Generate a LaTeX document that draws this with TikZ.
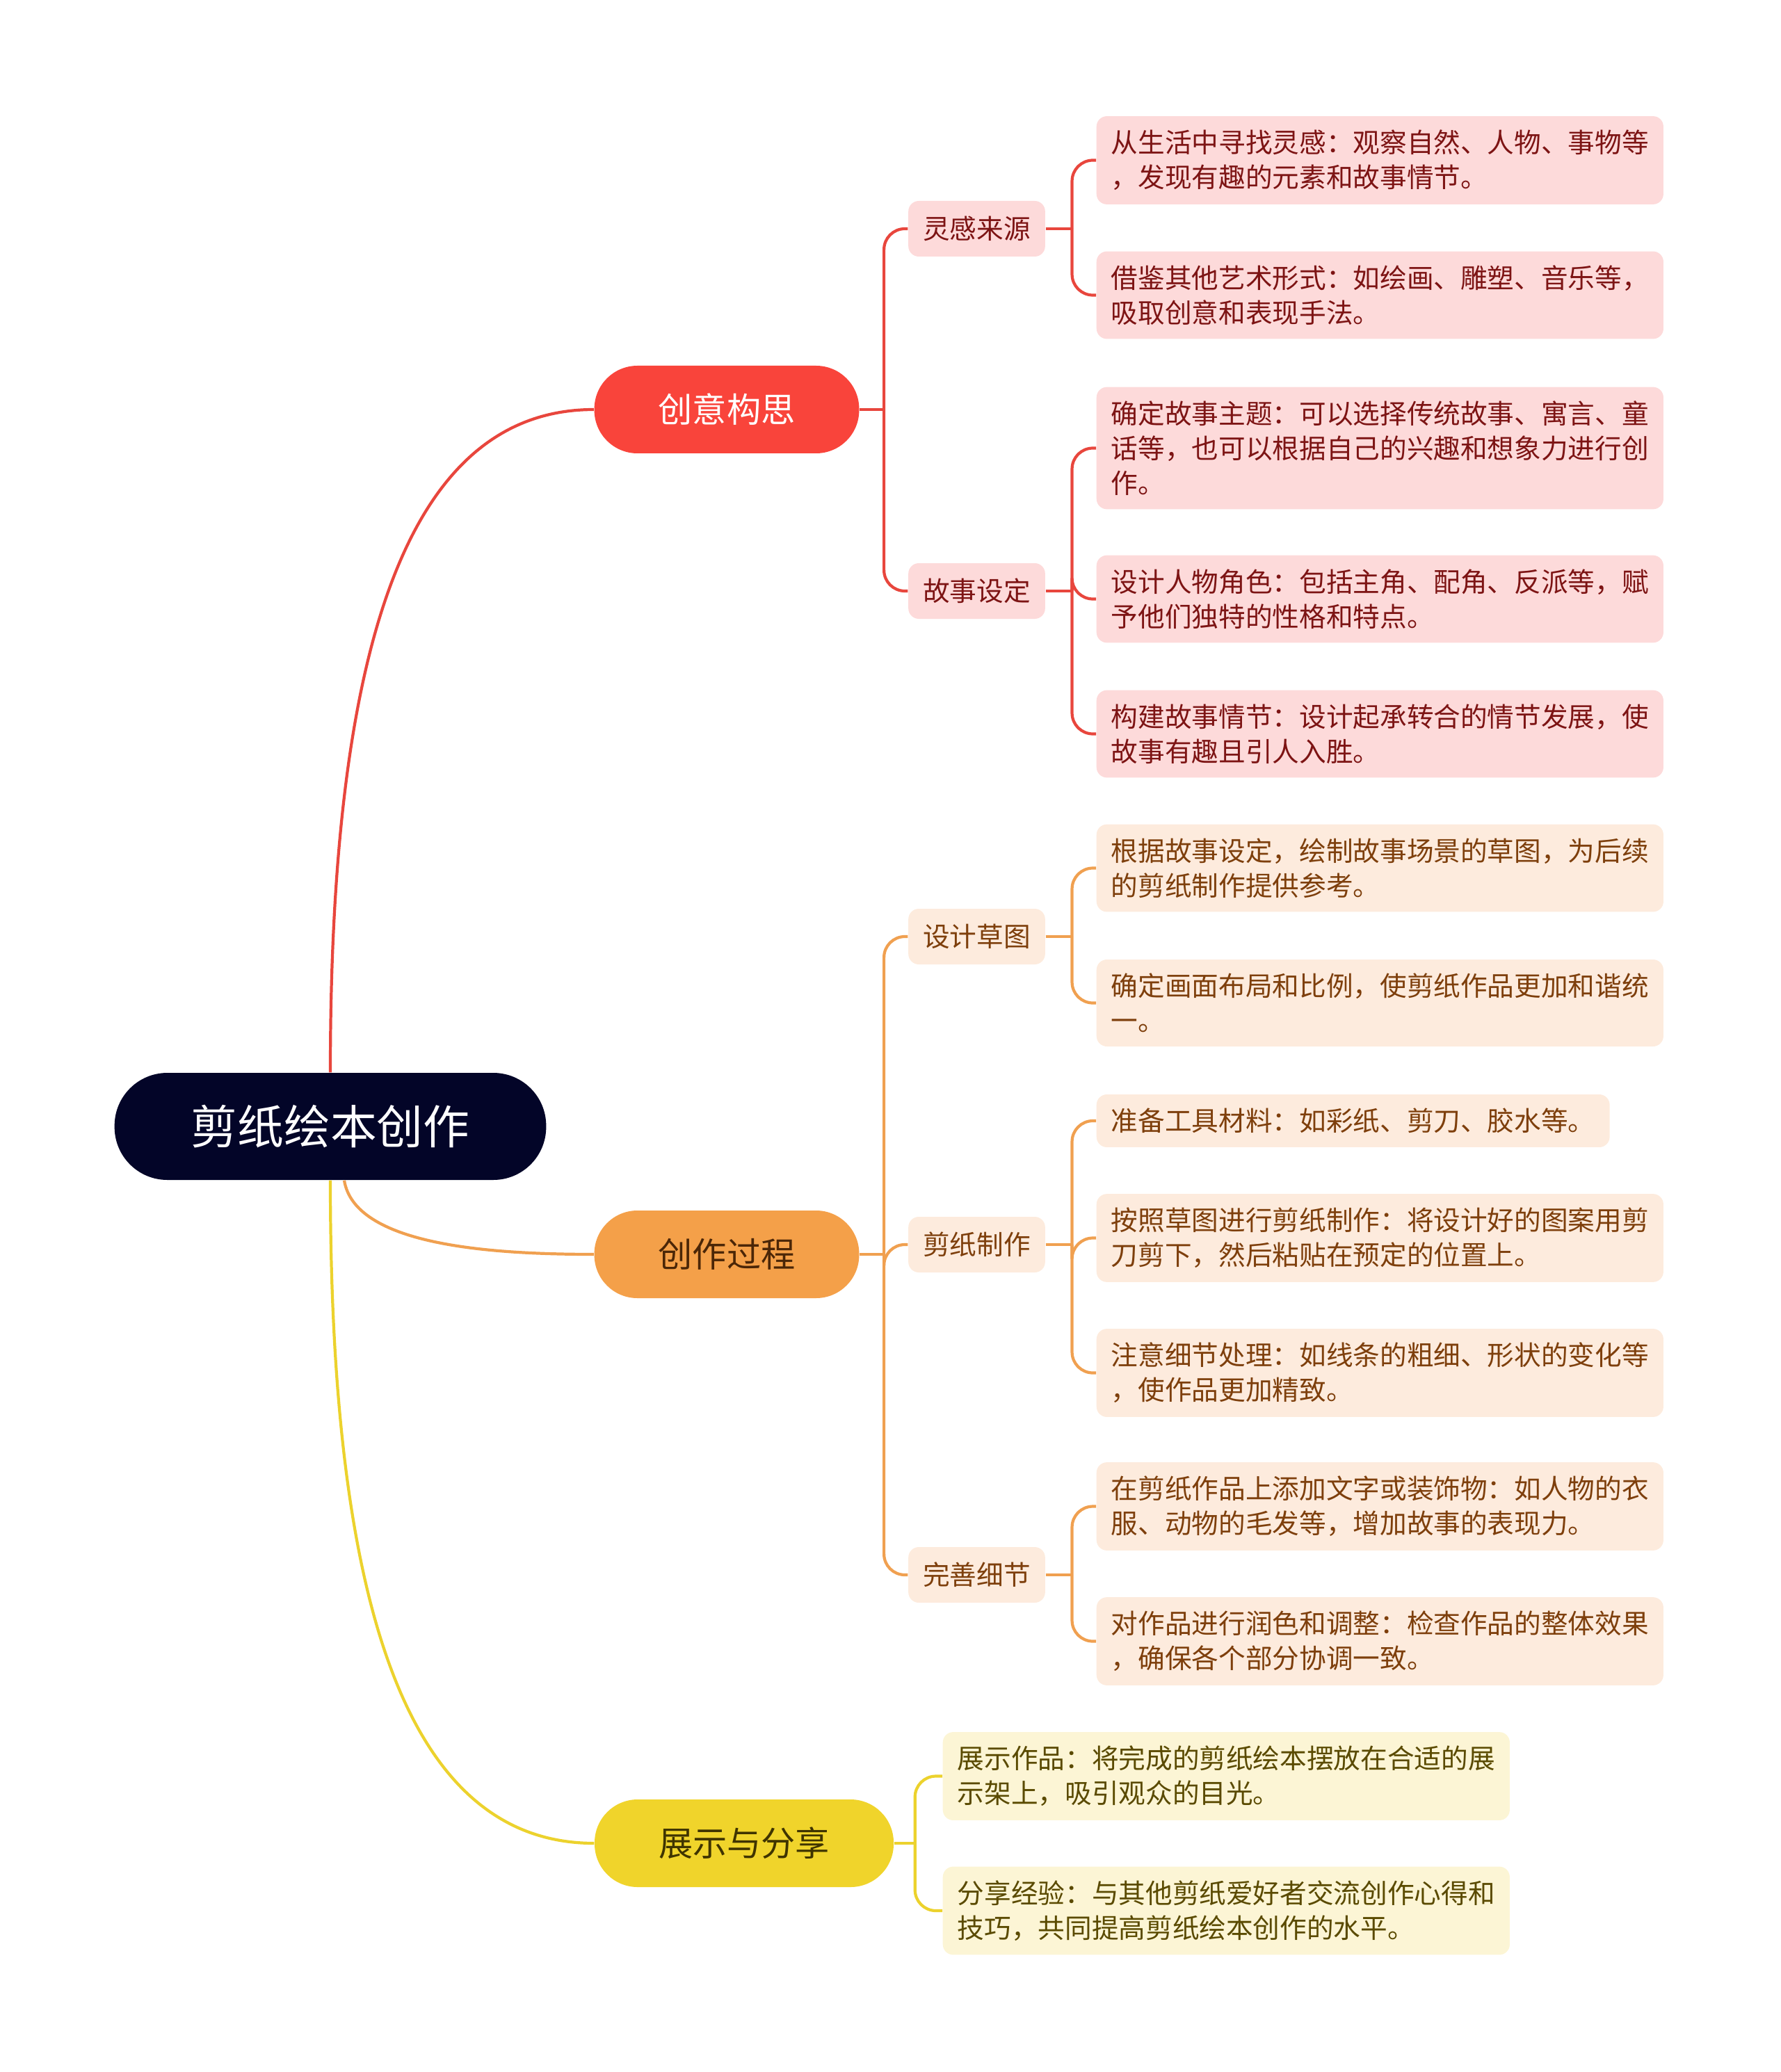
\documentclass[tikz,border=0pt]{standalone}
\usepackage{fontspec}
\setmainfont{Noto Sans CJK SC}
\usepackage{xcolor}
\usepackage{tikz}
\definecolor{rootnavy}{RGB}{3, 5, 40}
\definecolor{ired}{RGB}{249, 68, 59}
\definecolor{iredline}{RGB}{232, 70, 61}
\definecolor{iredfill}{RGB}{253, 218, 218}
\definecolor{iredtext}{RGB}{125, 20, 20}
\definecolor{porange}{RGB}{244, 160, 73}
\definecolor{porangeline}{RGB}{240, 160, 80}
\definecolor{porangefill}{RGB}{253, 235, 221}
\definecolor{porangetext}{RGB}{126, 63, 12}
\definecolor{syellow}{RGB}{240, 212, 43}
\definecolor{syellowline}{RGB}{236, 210, 45}
\definecolor{syellowfill}{RGB}{252, 245, 213}
\definecolor{syellowtext}{RGB}{90, 74, 0}

\begin{document}
\begin{tikzpicture}[
    rootnode/.style={fill=rootnavy, text=white, rounded corners=0.76cm, inner xsep=1.1cm, minimum height=1.54cm, font=\fontsize{19}{23}\selectfont},
    mainnode/.style={rounded corners=0.62cm, inner xsep=0.92cm, minimum height=1.26cm, font=\fontsize{14}{17}\selectfont},
    subnode/.style={rounded corners=0.15cm, inner xsep=0.21cm, minimum height=0.8cm, font=\fontsize{11}{14.2}\selectfont},
    leaf/.style={rounded corners=0.15cm, inner xsep=0.21cm, inner ysep=0.2cm, anchor=west, align=left, font=\fontsize{11}{14.2}\selectfont},
    link/.style={line width=1.2pt}
]
        \useasboundingbox (0,0) rectangle (25.6,-29.8);

        % root and main branches
        \node[rootnode] (root) at (4.75,-16.20) {剪纸绘本创作};
        \node[mainnode, fill=ired, text=white] (idea) at (10.45,-5.89) {创意构思};
        \node[mainnode, fill=porange, text=porangetext!60!black] (make) at (10.45,-18.04) {创作过程};
        \node[mainnode, fill=syellow, text=syellowtext!70!black] (show) at (10.70,-26.51) {展示与分享};

        \draw[link, iredline] (root.north) .. controls (4.75,-10.0) and (5.6,-5.89) .. (idea.west);
        \draw[link, porangeline] ([xshift=0.2cm]root.south) .. controls (5.1,-17.9) and (7.0,-18.04) .. (make.west);
        \draw[link, syellowline] (root.south) .. controls (4.75,-22.4) and (5.6,-26.51) .. (show.west);

        % second level
        \node[subnode, fill=iredfill, text=iredtext] (spark) at (14.045,-3.29) {灵感来源};
        \node[subnode, fill=iredfill, text=iredtext] (story) at (14.045,-8.50) {故事设定};
        \node[subnode, fill=porangefill, text=porangetext] (sketch) at (14.045,-13.47) {设计草图};
        \node[subnode, fill=porangefill, text=porangetext] (cut) at (14.045,-17.90) {剪纸制作};
        \node[subnode, fill=porangefill, text=porangetext] (detail) at (14.045,-22.65) {完善细节};

        % leaves
        \node[leaf, fill=iredfill, text=iredtext] (life) at (15.76,-2.305) {从生活中寻找灵感：观察自然、人物、事物等\\，发现有趣的元素和故事情节。};
        \node[leaf, fill=iredfill, text=iredtext] (art) at (15.76,-4.245) {借鉴其他艺术形式：如绘画、雕塑、音乐等，\\吸取创意和表现手法。};
        \node[leaf, fill=iredfill, text=iredtext] (theme) at (15.76,-6.445) {确定故事主题：可以选择传统故事、寓言、童\\话等，也可以根据自己的兴趣和想象力进行创\\作。};
        \node[leaf, fill=iredfill, text=iredtext] (role) at (15.76,-8.615) {设计人物角色：包括主角、配角、反派等，赋\\予他们独特的性格和特点。};
        \node[leaf, fill=iredfill, text=iredtext] (plot) at (15.76,-10.555) {构建故事情节：设计起承转合的情节发展，使\\故事有趣且引人入胜。};

        \node[leaf, fill=porangefill, text=porangetext] (draft) at (15.76,-12.485) {根据故事设定，绘制故事场景的草图，为后续\\的剪纸制作提供参考。};
        \node[leaf, fill=porangefill, text=porangetext] (layout) at (15.76,-14.425) {确定画面布局和比例，使剪纸作品更加和谐统\\一。};
        \node[leaf, fill=porangefill, text=porangetext] (tools) at (15.76,-16.12) {准备工具材料：如彩纸、剪刀、胶水等。};
        \node[leaf, fill=porangefill, text=porangetext] (paste) at (15.76,-17.805) {按照草图进行剪纸制作：将设计好的图案用剪\\刀剪下，然后粘贴在预定的位置上。};
        \node[leaf, fill=porangefill, text=porangetext] (fine) at (15.76,-19.745) {注意细节处理：如线条的粗细、形状的变化等\\，使作品更加精致。};
        \node[leaf, fill=porangefill, text=porangetext] (deco) at (15.76,-21.665) {在剪纸作品上添加文字或装饰物：如人物的衣\\服、动物的毛发等，增加故事的表现力。};
        \node[leaf, fill=porangefill, text=porangetext] (polish) at (15.76,-23.605) {对作品进行润色和调整：检查作品的整体效果\\，确保各个部分协调一致。};

        \node[leaf, fill=syellowfill, text=syellowtext] (display) at (13.55,-25.545) {展示作品：将完成的剪纸绘本摆放在合适的展\\示架上，吸引观众的目光。};
        \node[leaf, fill=syellowfill, text=syellowtext] (share) at (13.55,-27.48) {分享经验：与其他剪纸爱好者交流创作心得和\\技巧，共同提高剪纸绘本创作的水平。};

        % bus points
        \coordinate (ideabus) at ([xshift=0.35cm]idea.east);
        \coordinate (makebus) at ([xshift=0.35cm]make.east);
        \coordinate (showbus) at ([xshift=0.3cm]show.east);
        \coordinate (sparkbus) at ([xshift=0.38cm]spark.east);
        \coordinate (storybus) at ([xshift=0.38cm]story.east);
        \coordinate (sketchbus) at ([xshift=0.38cm]sketch.east);
        \coordinate (cutbus) at ([xshift=0.38cm]cut.east);
        \coordinate (detailbus) at ([xshift=0.38cm]detail.east);

        \draw[link, iredline] (idea.east) -- (ideabus);
        \draw[link, iredline, rounded corners=0.3cm] (ideabus) |- (spark.west);
        \draw[link, iredline, rounded corners=0.3cm] (ideabus) |- (story.west);
        \draw[link, iredline] (spark.east) -- (sparkbus);
        \draw[link, iredline, rounded corners=0.3cm] (sparkbus) |- (life.west);
        \draw[link, iredline, rounded corners=0.3cm] (sparkbus) |- (art.west);
        \draw[link, iredline] (story.east) -- (storybus);
        \draw[link, iredline, rounded corners=0.3cm] (storybus) |- (theme.west);
        \draw[link, iredline, rounded corners=0.3cm] (storybus) |- (role.west);
        \draw[link, iredline, rounded corners=0.3cm] (storybus) |- (plot.west);

        \draw[link, porangeline] (make.east) -- (makebus);
        \draw[link, porangeline, rounded corners=0.3cm] (makebus) |- (sketch.west);
        \draw[link, porangeline, rounded corners=0.3cm] (makebus) |- (cut.west);
        \draw[link, porangeline, rounded corners=0.3cm] (makebus) |- (detail.west);
        \draw[link, porangeline] (sketch.east) -- (sketchbus);
        \draw[link, porangeline, rounded corners=0.3cm] (sketchbus) |- (draft.west);
        \draw[link, porangeline, rounded corners=0.3cm] (sketchbus) |- (layout.west);
        \draw[link, porangeline] (cut.east) -- (cutbus);
        \draw[link, porangeline, rounded corners=0.3cm] (cutbus) |- (tools.west);
        \draw[link, porangeline, rounded corners=0.3cm] (cutbus) |- (paste.west);
        \draw[link, porangeline, rounded corners=0.3cm] (cutbus) |- (fine.west);
        \draw[link, porangeline] (detail.east) -- (detailbus);
        \draw[link, porangeline, rounded corners=0.3cm] (detailbus) |- (deco.west);
        \draw[link, porangeline, rounded corners=0.3cm] (detailbus) |- (polish.west);

        \draw[link, syellowline] (show.east) -- (showbus);
        \draw[link, syellowline, rounded corners=0.3cm] (showbus) |- (display.west);
        \draw[link, syellowline, rounded corners=0.3cm] (showbus) |- (share.west);
    \end{tikzpicture}
\end{document}
